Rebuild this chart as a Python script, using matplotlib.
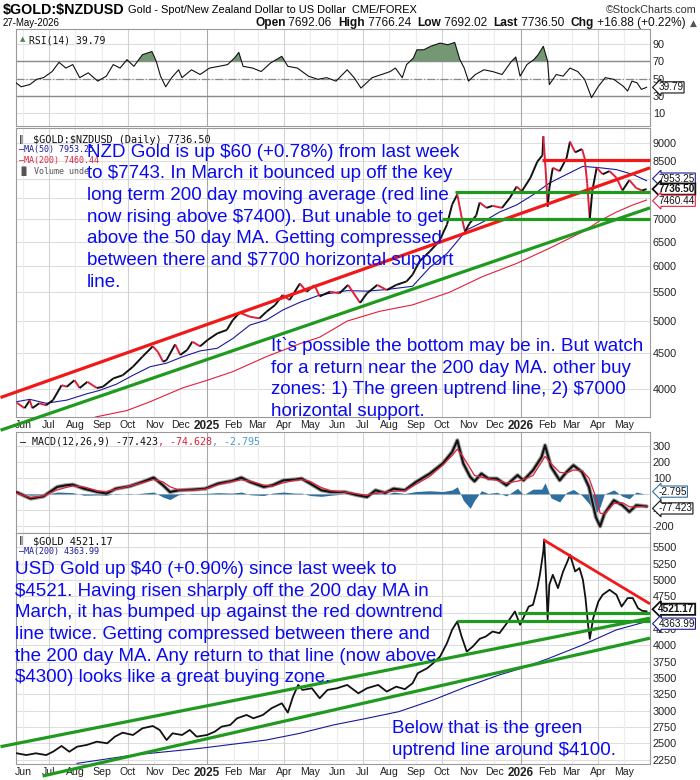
import matplotlib
matplotlib.use('Agg')
import matplotlib.pyplot as plt
import matplotlib.dates as mdates
from matplotlib import font_manager
from matplotlib.collections import LineCollection
from matplotlib.ticker import NullLocator
import numpy as np
import pandas as pd

# ------------------------------------------------------------------ data
rsi_dates = ["2024-05-24","2024-05-30","2024-06-09","2024-06-17","2024-06-25","2024-07-05","2024-07-13",
 "2024-07-21","2024-07-29","2024-08-06","2024-08-16","2024-08-27","2024-09-06","2024-09-14","2024-09-22",
 "2024-09-30","2024-10-08","2024-10-18","2024-10-29","2024-11-03","2024-11-08","2024-11-14","2024-11-21",
 "2024-11-29","2024-12-03","2024-12-14","2024-12-24","2025-01-04","2025-01-15","2025-01-25","2025-02-02",
 "2025-02-07","2025-02-12","2025-02-23","2025-03-05","2025-03-16","2025-03-29","2025-04-05","2025-04-16",
 "2025-04-29","2025-05-10","2025-05-20","2025-05-31","2025-06-13","2025-06-21","2025-06-29","2025-07-12",
 "2025-07-23","2025-08-02","2025-08-08","2025-08-16","2025-08-21","2025-08-29","2025-09-02","2025-09-10",
 "2025-09-18","2025-09-29","2025-10-08","2025-10-16","2025-10-22","2025-10-27","2025-11-01","2025-11-09",
 "2025-11-19","2025-11-29","2025-12-10","2025-12-21","2025-12-26","2025-12-31","2026-01-08","2026-01-16",
 "2026-01-21","2026-01-27","2026-02-01","2026-02-03","2026-02-11","2026-02-19","2026-02-27","2026-03-08",
 "2026-03-16","2026-03-24","2026-04-01","2026-04-09","2026-04-19","2026-04-30","2026-05-05","2026-05-10",
 "2026-05-16","2026-05-21","2026-05-27"]
rsi_values = [45,40.5,43,49,51,58,68.6,62,66,51,56.5,47,52.7,66,62,71.7,64,77.4,81,69.8,52.7,40.5,51,60,51,
 60,54.6,62,64,66,73.6,80,64,62,58,67.9,75.5,64,62,52.7,49,51,47,60,51,39,51,54.6,58,62,51,66,73.6,83,83,
 87,90.7,88.8,91.4,71.7,62,47,54.6,60,58,54.6,69.8,74.7,52.7,66,71.7,77.4,87,69.8,43,54.6,52.7,62,58,49,
 28,41,51,49,41,35.6,47,45,37.5,39.79]

nzd_dates = ["2024-05-25","2024-06-03","2024-06-09","2024-06-12","2024-06-20","2024-06-28","2024-07-06",
 "2024-07-16","2024-07-22","2024-07-31","2024-08-06","2024-08-15","2024-08-26","2024-09-02","2024-09-14",
 "2024-09-25","2024-10-07","2024-10-18","2024-10-30","2024-11-05","2024-11-11","2024-11-15","2024-11-25",
 "2024-12-01","2024-12-09","2024-12-15","2024-12-24","2025-01-02","2025-01-13","2025-01-24","2025-01-31",
 "2025-02-08","2025-02-20","2025-03-03","2025-03-11","2025-03-21","2025-03-30","2025-04-07","2025-04-19",
 "2025-04-27","2025-05-06","2025-05-12","2025-05-24","2025-06-04","2025-06-14","2025-06-28","2025-07-06",
 "2025-07-18","2025-07-29","2025-08-09","2025-08-21","2025-08-28","2025-09-05","2025-09-17","2025-09-28",
 "2025-10-07","2025-10-13","2025-10-19","2025-10-24","2025-10-28","2025-11-02","2025-11-10","2025-11-14",
 "2025-11-22","2025-11-29","2025-12-10","2025-12-19","2025-12-27","2026-01-02","2026-01-12","2026-01-20",
 "2026-01-26","2026-01-27","2026-01-30","2026-02-01","2026-02-03","2026-02-07","2026-02-15","2026-02-23",
 "2026-02-27","2026-03-05","2026-03-13","2026-03-16","2026-03-19","2026-03-22","2026-03-25","2026-03-30",
 "2026-04-06","2026-04-14","2026-04-22","2026-04-29","2026-05-07","2026-05-15","2026-05-22","2026-05-27"]
nzd_close = [3816,3749,3847,3749,3810,3785,3850,4045,4024,4112,4007,4090,4007,4024,4136,4180,4300,4445,4600,
 4515,4370,4395,4630,4470,4545,4670,4600,4700,4800,4855,5016,5140,5072,5045,5155,5270,5450,5360,5660,5510,
 5630,5425,5510,5480,5635,5310,5480,5635,5540,5635,5700,5830,6090,6295,6510,6880,7350,7600,7050,6720,6900,
 7090,7400,7270,7320,7270,7510,7800,7680,8030,8470,8650,9210,8130,7300,7760,8300,8210,8570,9050,8735,8830,
 8570,7880,7000,7700,8300,8125,8210,8030,7700,7970,7760,7700,7736.50]

nzd_ma50_dates = ["2024-05-25","2024-06-09","2024-06-28","2024-07-22","2024-08-14","2024-08-29","2024-09-18",
 "2024-10-07","2024-10-27","2024-11-15","2024-12-04","2024-12-24","2025-01-13","2025-01-31","2025-02-20",
 "2025-03-11","2025-03-30","2025-04-19","2025-05-12","2025-06-13","2025-07-06","2025-07-29","2025-08-28",
 "2025-09-17","2025-10-07","2025-10-30","2025-11-17","2025-12-07","2025-12-27","2026-01-15","2026-02-03",
 "2026-02-23","2026-03-14","2026-04-03","2026-04-22","2026-05-11","2026-05-27"]
nzd_ma50 = [3830,3860,3810,3850,3930,3975,4060,4180,4300,4350,4445,4530,4570,4720,4935,5017,5185,5320,5450,
 5530,5520,5550,5610,5970,6250,6760,6930,7170,7340,7590,7890,8120,8340,8300,8250,8120,7953.25]

nzd_ma200_dates = ["2024-08-24","2024-09-30","2024-10-27","2024-12-04","2025-01-01","2025-01-31","2025-03-11",
 "2025-04-19","2025-05-12","2025-06-13","2025-07-21","2025-08-28","2025-10-10","2025-11-17","2025-12-27",
 "2026-02-03","2026-03-14","2026-04-03","2026-04-22","2026-05-11","2026-05-27"]
nzd_ma200 = [3640,3720,3830,4010,4110,4230,4445,4640,4740,5000,5165,5275,5500,5790,6050,6360,6720,6970,7170,
 7340,7460.44]

# trend-line annotations (start/end date, start/end value)
nzd_red_trend = (["2024-05-06", "2026-05-31"], [3883, 8300])
nzd_green_trend = (["2024-05-06", "2026-05-31"], [3485, 7270])
nzd_red_level = (["2026-01-26", "2026-05-31"], [8520, 8520])
nzd_green_level_hi = (["2025-10-16", "2026-05-31"], [7650, 7650])
nzd_green_level_lo = (["2025-10-01", "2026-05-31"], [7000, 7000])

macd_dates = ["2024-05-24","2024-06-10","2024-06-25","2024-07-11","2024-07-21","2024-07-29","2024-08-11",
 "2024-08-27","2024-09-06","2024-09-17","2024-10-03","2024-10-18","2024-10-31","2024-11-11","2024-11-19",
 "2024-11-29","2024-12-15","2024-12-30","2025-01-14","2025-01-30","2025-02-10","2025-02-20","2025-03-08",
 "2025-03-18","2025-03-31","2025-04-13","2025-04-21","2025-05-01","2025-05-14","2025-05-25","2025-06-10",
 "2025-06-25","2025-07-06","2025-07-16","2025-07-27","2025-08-06","2025-08-19","2025-09-01","2025-09-17",
 "2025-10-02","2025-10-13","2025-10-19","2025-10-26","2025-11-03","2025-11-08","2025-11-16","2025-11-24",
 "2025-12-04","2025-12-15","2025-12-28","2026-01-04","2026-01-15","2026-01-25","2026-01-29","2026-02-05",
 "2026-02-15","2026-02-23","2026-03-03","2026-03-13","2026-03-21","2026-03-29","2026-04-03","2026-04-08",
 "2026-04-19","2026-04-29","2026-05-07","2026-05-15","2026-05-27"]
macd_line = [12,-29,-15,44,54,58,33,12,2,33,48,75,102,54,12,23,27,33,65,81,102,75,44,54,85,90,96,65,23,12,
 12,-8,-19,23,6,33,23,75,127,190,262,335,190,106,79,127,96,96,54,117,85,148,231,304,169,85,137,179,137,44,
 -144,-202,-123,-40,-71,-112,-71,-77.423]
macd_signal = [6,-23,-12,25,40,50,44,18,15,28,50,70,90,75,45,25,23,30,58,78,88,80,55,48,70,85,90,78,40,20,
 12,0,-8,5,12,17,20,60,110,180,240,280,230,160,115,105,95,85,68,80,90,115,200,235,190,135,130,150,145,100,
 -20,-120,-125,-60,-55,-80,-82,-74.628]
macd_hist = [5,-8,-5,12,10,8,-8,-6,-8,3,-3,5,12,-20,-35,-5,3,3,8,5,12,-5,-10,5,12,5,5,-10,-15,-8,0,-8,-12,
 15,-5,12,3,15,20,15,25,45,-40,-90,-40,20,3,10,-12,35,-5,30,30,70,-25,-50,10,28,-10,-60,-125,-80,0,25,-15,
 -30,12,-2.795]

gold_dates = ["2024-05-25","2024-06-05","2024-06-16","2024-06-28","2024-07-06","2024-07-16","2024-07-25",
 "2024-08-03","2024-08-14","2024-08-26","2024-09-07","2024-09-16","2024-09-25","2024-10-07","2024-10-18",
 "2024-10-30","2024-11-07","2024-11-15","2024-11-22","2024-12-03","2024-12-12","2024-12-20","2025-01-01",
 "2025-01-10","2025-01-18","2025-01-28","2025-02-05","2025-02-16","2025-02-24","2025-03-07","2025-03-17",
 "2025-03-29","2025-04-05","2025-04-11","2025-04-17","2025-04-22","2025-05-03","2025-05-12","2025-05-21",
 "2025-06-01","2025-06-13","2025-06-26","2025-07-06","2025-07-19","2025-07-29","2025-08-09","2025-08-19",
 "2025-08-28","2025-09-03","2025-09-14","2025-09-21","2025-09-29","2025-10-07","2025-10-13","2025-10-19",
 "2025-10-24","2025-10-30","2025-11-06","2025-11-14","2025-11-21","2025-11-29","2025-12-07","2025-12-17",
 "2025-12-25","2025-12-31","2026-01-10","2026-01-15","2026-01-20","2026-01-23","2026-01-27","2026-01-28",
 "2026-01-30","2026-02-01","2026-02-03","2026-02-07","2026-02-13","2026-02-19","2026-02-24","2026-02-27",
 "2026-03-05","2026-03-10","2026-03-14","2026-03-17","2026-03-20","2026-03-22","2026-03-26","2026-04-01",
 "2026-04-06","2026-04-14","2026-04-22","2026-04-28","2026-05-05","2026-05-11","2026-05-17","2026-05-22",
 "2026-05-27"]
gold_close = [2347,2320,2347,2320,2371,2459,2371,2448,2474,2525,2500,2602,2663,2627,2730,2765,2704,2550,2653,
 2627,2704,2602,2627,2678,2755,2781,2883,2934,2883,2934,3037,3113,2970,3215,3394,3317,3343,3190,3317,3343,
 3394,3266,3343,3394,3292,3368,3329,3420,3574,3650,3727,3830,4034,4240,4365,4135,3905,3982,4100,4135,4212,
 4187,4365,4519,4315,4595,4621,4877,5081,5440,5620,5081,4400,4928,5081,4877,5132,5285,5388,5132,5184,5005,
 4724,4315,4100,4417,4672,4775,4851,4775,4595,4724,4724,4570,4529,4521.17]

gold_ma200_dates = ["2024-08-03","2024-10-07","2024-12-24","2025-03-11","2025-04-19","2025-05-28","2025-07-06",
 "2025-08-12","2025-09-21","2025-10-30","2025-12-07","2026-01-02","2026-02-03","2026-03-14","2026-04-22",
 "2026-05-27"]
gold_ma200 = [2193,2320,2423,2550,2653,2781,2883,2985,3164,3369,3548,3650,3804,4008,4238,4363.99]

gold_green_upper = (["2024-05-06", "2026-05-31"], [2448, 4417])
gold_green_lower = (["2024-06-24", "2026-05-31"], [1999, 4110])
gold_red_down = (["2026-01-27", "2026-05-31"], [5618, 4636])
gold_green_level_hi = (["2025-12-28", "2026-05-31"], [4503, 4503])
gold_green_level_lo = (["2025-10-19", "2026-05-31"], [4376, 4376])

rsi_ticks = [10, 30, 50, 70, 90]
nzd_ticks = [4000, 4500, 5000, 5500, 6000, 6500, 7000, 7500, 8000, 8500, 9000]
nzd_tick_labels = ["4000", "4500", "5000", "5500", "6000", "6500", "7000", "", "", "8500", "9000"]
macd_ticks = [-200, -100, 0, 100, 200, 300]
macd_tick_labels = ["-200", "-100", "", "100", "200", "300"]
gold_ticks = [2250, 2500, 2750, 3000, 3250, 3500, 3750, 4000, 4250, 4500, 4750, 5000, 5250, 5500]
gold_tick_labels = ["2250", "2500", "2750", "3000", "3250", "3500", "3750", "4000", "4250", "", "4750",
                    "5000", "5250", "5500"]

header_quote = [("Open", " 7692.06  "), ("High", " 7766.24  "), ("Low", " 7692.02  "),
                ("Last", " 7736.50  "), ("Chg", " +16.88 (+0.22%)")]

nzd_note = ["NZD Gold is up $60 (+0.78%) from last week",
            "to $7743. In March it bounced up off the key",
            "long term 200 day moving average (red line",
            "now rising above $7400). But unable to get",
            "above the 50 day MA. Getting compressed",
            "between there and $7700 horizontal support",
            "line."]
nzd_note2 = ["It`s possible the bottom may be in. But watch",
             "for a return near the 200 day MA. other buy",
             "zones: 1) The green uptrend line, 2) $7000",
             "horizontal support."]
gold_note = ["USD Gold up $40 (+0.90%) since last week to",
             "$4521. Having risen sharply off the 200 day MA in",
             "March, it has bumped up against the red downtrend",
             "line twice. Getting compressed between there and",
             "the 200 day MA. Any return to that line (now above",
             "$4300) looks like a great buying zone."]
gold_note2 = ["Below that is the green", "uptrend line around $4100."]

# ------------------------------------------------------------------ style
W, H = 700, 780
_names = {f.name for f in font_manager.fontManager.ttflist}
SANS = 'Liberation Sans' if 'Liberation Sans' in _names else 'DejaVu Sans'
NARROW = 'Liberation Sans Narrow' if 'Liberation Sans Narrow' in _names else SANS
MONO = 'DejaVu Sans Mono'
BLUE_TXT = '#0a0aee'
GREEN = '#1f9a1f'
RED = '#f01818'


def esc(s):
    return s.replace('$', r'\$')


fig = plt.figure(figsize=(W / 100, H / 100), dpi=100)
fig.patch.set_facecolor('white')
renderer = fig.canvas.get_renderer()


def fit(t, target_w):
    bb = t.get_window_extent(renderer)
    if bb.width > 0:
        t.set_fontsize(t.get_fontsize() * target_w / bb.width)
    return t


def add_ax(top, bottom, left=16, right=650):
    return fig.add_axes([left / W, 1 - bottom / H, (right - left) / W, (bottom - top) / H])


def D(lst):
    return mdates.date2num(pd.to_datetime(lst))


x0, x1 = D(["2024-05-24", "2026-05-31"])
month_starts = pd.date_range("2024-06-01", "2026-05-01", freq="MS")
month_labels = [str(m.year) if m.month == 1 else m.strftime('%b') for m in month_starts]


def style(ax, ticks, labels, ylim, show_x=False, log=False):
    ax.set_xlim(x0, x1)
    if log:
        ax.set_yscale('log')
    ax.set_ylim(*ylim)
    ax.yaxis.tick_right()
    ax.set_yticks(ticks)
    ax.set_yticklabels(labels)
    ax.yaxis.set_minor_locator(NullLocator())
    ax.tick_params(axis='y', length=0, pad=2, labelsize=7.8, labelcolor='#222')
    for lab in ax.get_yticklabels():
        lab.set_fontfamily(NARROW)
    for t in ticks:
        ax.axhline(t, color='#dedede', lw=0.8, zorder=0)
    for m in month_starts:
        c = '#a8a8a8' if m.month == 1 else ('#d2d2d2' if m.month in (4, 7, 10) else '#ececec')
        ax.axvline(mdates.date2num(m), color=c, lw=0.8, zorder=0)
    ax.set_xticks(mdates.date2num(month_starts))
    if show_x:
        ax.set_xticklabels(month_labels)
        ax.tick_params(axis='x', length=0, pad=2, labelsize=7.6, labelcolor='#222')
        for lab, m in zip(ax.get_xticklabels(), month_starts):
            lab.set_fontfamily(SANS)
            if m.month == 1:
                lab.set_fontweight('bold')
                lab.set_fontsize(8.5)
    else:
        ax.set_xticklabels([])
        ax.tick_params(axis='x', length=0)
    for s in ax.spines.values():
        s.set_color('#9a9a9a')
        s.set_linewidth(0.8)


def value_box(ax, val, text, ec, bold=False, lw=0.8, dy=0):
    ax.annotate(text, xy=(1, val), xycoords=('axes fraction', 'data'), xytext=(6, dy),
                textcoords='offset points', va='center', ha='left', fontsize=7.2,
                fontfamily=NARROW, fontweight='bold' if bold else 'normal', color='#111',
                bbox=dict(boxstyle='larrow,pad=0.06', fc='white', ec=ec, lw=lw),
                annotation_clip=False, zorder=10)


def fig_lines(lines, x, y0, step, size=13.5, color=BLUE_TXT):
    for i, s in enumerate(lines):
        fig.text(x / W, 1 - (y0 + i * step) / H, esc(s), fontsize=size, color=color,
                 fontfamily=SANS, va='baseline', ha='left', zorder=20)


def trend(ax, tl, color, lw=2.3):
    ax.plot(D(tl[0]), tl[1], color=color, lw=lw, clip_on=False, solid_capstyle='butt', zorder=6)


# ------------------------------------------------------------------ header
fit(fig.text(3 / W, 1 - 10 / H, esc("$GOLD:$NZDUSD"), fontsize=12, fontweight='bold', fontfamily=NARROW,
             va='center', ha='left'), 121)
fit(fig.text(128 / W, 1 - 10 / H, "Gold - Spot/New Zealand Dollar to US Dollar  CME/FOREX", fontsize=8,
             fontfamily=NARROW, va='center', ha='left'), 289)
fit(fig.text(697 / W, 1 - 10 / H, "\u00a9StockCharts.com", fontsize=8, fontfamily=NARROW, va='center',
             ha='right', color='#333'), 90)
fit(fig.text(3 / W, 1 - 23 / H, "27-May-2026", fontsize=8, fontfamily=NARROW, va='center', ha='left'), 57)

# quote line: lay out pieces, then scale so it spans x = 255 .. 686
pieces = []
for lab, val in header_quote:
    pieces.append((lab, 'bold'))
    pieces.append((val, 'normal'))
tx = []
for s, wgt in pieces:
    tx.append(fig.text(0, 1 - 23 / H, s, fontsize=8, fontfamily=NARROW if wgt == 'bold' else SANS,
                       fontweight=wgt, va='center', ha='left', color='#111'))
widths = [t.get_window_extent(renderer).width for t in tx]
scale = (686 - 255) / sum(widths)
xp = 255.0
for t, w in zip(tx, widths):
    t.set_fontsize(8 * scale)
    t.set_x(xp / W)
    xp += w * scale
fig.text(697 / W, 1 - 23 / H, "\u25b2", fontsize=6.5, fontfamily='DejaVu Sans', va='center', ha='right',
         color='#555')

# ------------------------------------------------------------------ RSI
ax_r = add_ax(29, 126)
style(ax_r, rsi_ticks, [str(t) for t in rsi_ticks], (-4.6, 106.9))
rd = D(rsi_dates)
rv = np.array(rsi_values)
ax_r.axhline(70, color='#8a8a8a', lw=1.0, zorder=1)
ax_r.axhline(30, color='#8a8a8a', lw=1.0, zorder=1)
ax_r.axhline(50, color='#8a8a8a', lw=0.9, ls='-.', zorder=1)
ax_r.fill_between(rd, rv, 70, where=rv > 70, interpolate=True, color='#739873', zorder=2, lw=0)
ax_r.plot(rd, rv, color='#111', lw=0.8, zorder=3)
value_box(ax_r, rsi_values[-1], "39.79", '#111')
ax_r.text(0.006, 0.93, "\u25b2", transform=ax_r.transAxes, fontsize=5, color='#5a7d5a', va='top')
ax_r.text(0.02, 0.93, "RSI(14) 39.79", transform=ax_r.transAxes, fontsize=7, fontfamily=MONO,
          color='#111', va='top')

# ------------------------------------------------------------------ NZD price
ax_p = add_ax(128, 417)
style(ax_p, nzd_ticks, nzd_tick_labels, (3641, 9467), show_x=True, log=True)
pdn = D(nzd_dates)
pv = np.array(nzd_close)
pts = np.column_stack([pdn, pv])
segs = np.stack([pts[:-1], pts[1:]], axis=1)
cols = ['#e0203a' if b < a else '#111111' for a, b in zip(pv[:-1], pv[1:])]
ax_p.add_collection(LineCollection(segs, colors=cols, linewidths=1.4, zorder=4))
ax_p.plot(D(nzd_ma50_dates), nzd_ma50, color='#1a1a9a', lw=0.8, zorder=3)
ax_p.plot(D(nzd_ma200_dates), nzd_ma200, color='#e0203a', lw=0.8, zorder=3)
trend(ax_p, nzd_red_trend, RED)
trend(ax_p, nzd_green_trend, GREEN)
trend(ax_p, nzd_red_level, RED)
trend(ax_p, nzd_green_level_hi, GREEN)
trend(ax_p, nzd_green_level_lo, GREEN)
value_box(ax_p, nzd_ma50[-1], "7953.25", '#1a1a9a', dy=1.5)
value_box(ax_p, nzd_close[-1], "7736.50", '#111', bold=True, lw=1.3)
value_box(ax_p, nzd_ma200[-1], "7460.44", '#e0203a', dy=-0.5)
lt = ax_p.transAxes
ax_p.text(0.027, 0.977, esc("$GOLD:$NZDUSD (Daily) 7736.50"), transform=lt, fontsize=7.4, fontfamily=MONO,
          va='top', color='#111')
ax_p.text(0.005, 0.977, "\u2016", transform=lt, fontsize=6.5, va='top', color='#111')
ax_p.text(0.005, 0.94, "\u2014MA(50) 7953.25", transform=lt, fontsize=6, fontfamily=MONO, va='top',
          color='#1a1a9a')
ax_p.text(0.005, 0.903, "\u2014MA(200) 7460.44", transform=lt, fontsize=6, fontfamily=MONO, va='top',
          color='#e0203a')
ax_p.text(0.005, 0.866, "\u2590\u258c Volume unde", transform=lt, fontsize=6, fontfamily=MONO, va='top',
          color='#555')

# ------------------------------------------------------------------ MACD
ax_m = add_ax(432, 533)
style(ax_m, macd_ticks, macd_tick_labels, (-244, 387))
md = D(macd_dates)
ax_m.fill_between(md, 0, macd_hist, color='#2f6f9f', lw=0, zorder=2)
ax_m.plot(md, macd_line, color='#9a9a9a', lw=3.0, zorder=3, solid_capstyle='round')
ax_m.plot(md, macd_line, color='#111', lw=1.5, zorder=4)
ax_m.plot(md, macd_signal, color='#e0203a', lw=0.9, zorder=5)
value_box(ax_m, macd_hist[-1], "-2.795", '#2f6f9f', dy=2)
value_box(ax_m, macd_line[-1], "-77.423", '#111', dy=-1.5)
cw = 0.602 * 7.2 * 100 / 72 / (650 - 16)
parts = [("\u2014 MACD(12,26,9) -77.423", '#111'), (", -74.628", '#e0203a'), (", -2.795", '#4a9ad0')]
xx = 0.006
for s, c in parts:
    ax_m.text(xx, 0.955, s, transform=ax_m.transAxes, fontsize=7.2, fontfamily=MONO, color=c, va='top')
    xx += len(s) * cw

# ------------------------------------------------------------------ USD gold
ax_g = add_ax(533, 764)
style(ax_g, gold_ticks, gold_tick_labels, (2183, 5721), show_x=True)
ax_g.plot(D(gold_dates), gold_close, color='#111', lw=1.3, zorder=4)
ax_g.plot(D(gold_ma200_dates), gold_ma200, color='#1a1a9a', lw=0.8, zorder=3)
trend(ax_g, gold_green_upper, GREEN)
trend(ax_g, gold_green_lower, GREEN)
trend(ax_g, gold_red_down, RED, lw=2.0)
trend(ax_g, gold_green_level_hi, GREEN)
trend(ax_g, gold_green_level_lo, GREEN)
value_box(ax_g, gold_close[-1], "4521.17", '#111', bold=True, lw=1.3, dy=1.5)
value_box(ax_g, gold_ma200[-1], "4363.99", '#1a1a9a', dy=-1.5)
gt = ax_g.transAxes
ax_g.text(0.027, 0.985, esc("$GOLD 4521.17"), transform=gt, fontsize=7.4, fontfamily=MONO, va='top',
          color='#111')
ax_g.text(0.005, 0.985, "\u2016", transform=gt, fontsize=6.5, va='top', color='#111')
ax_g.text(0.005, 0.94, "\u2014MA(200) 4363.99", transform=gt, fontsize=6, fontfamily=MONO, va='top',
          color='#1a1a9a')

# ------------------------------------------------------------------ notes
fig_lines(nzd_note, 87, 156.7, 21.67)
fig_lines(nzd_note2, 271, 351, 21.67)
fig_lines(gold_note, 15, 574, 21.67)
fig_lines(gold_note2, 392, 733.3, 21.67)

fig.savefig('out.png', dpi=100, facecolor='white')
